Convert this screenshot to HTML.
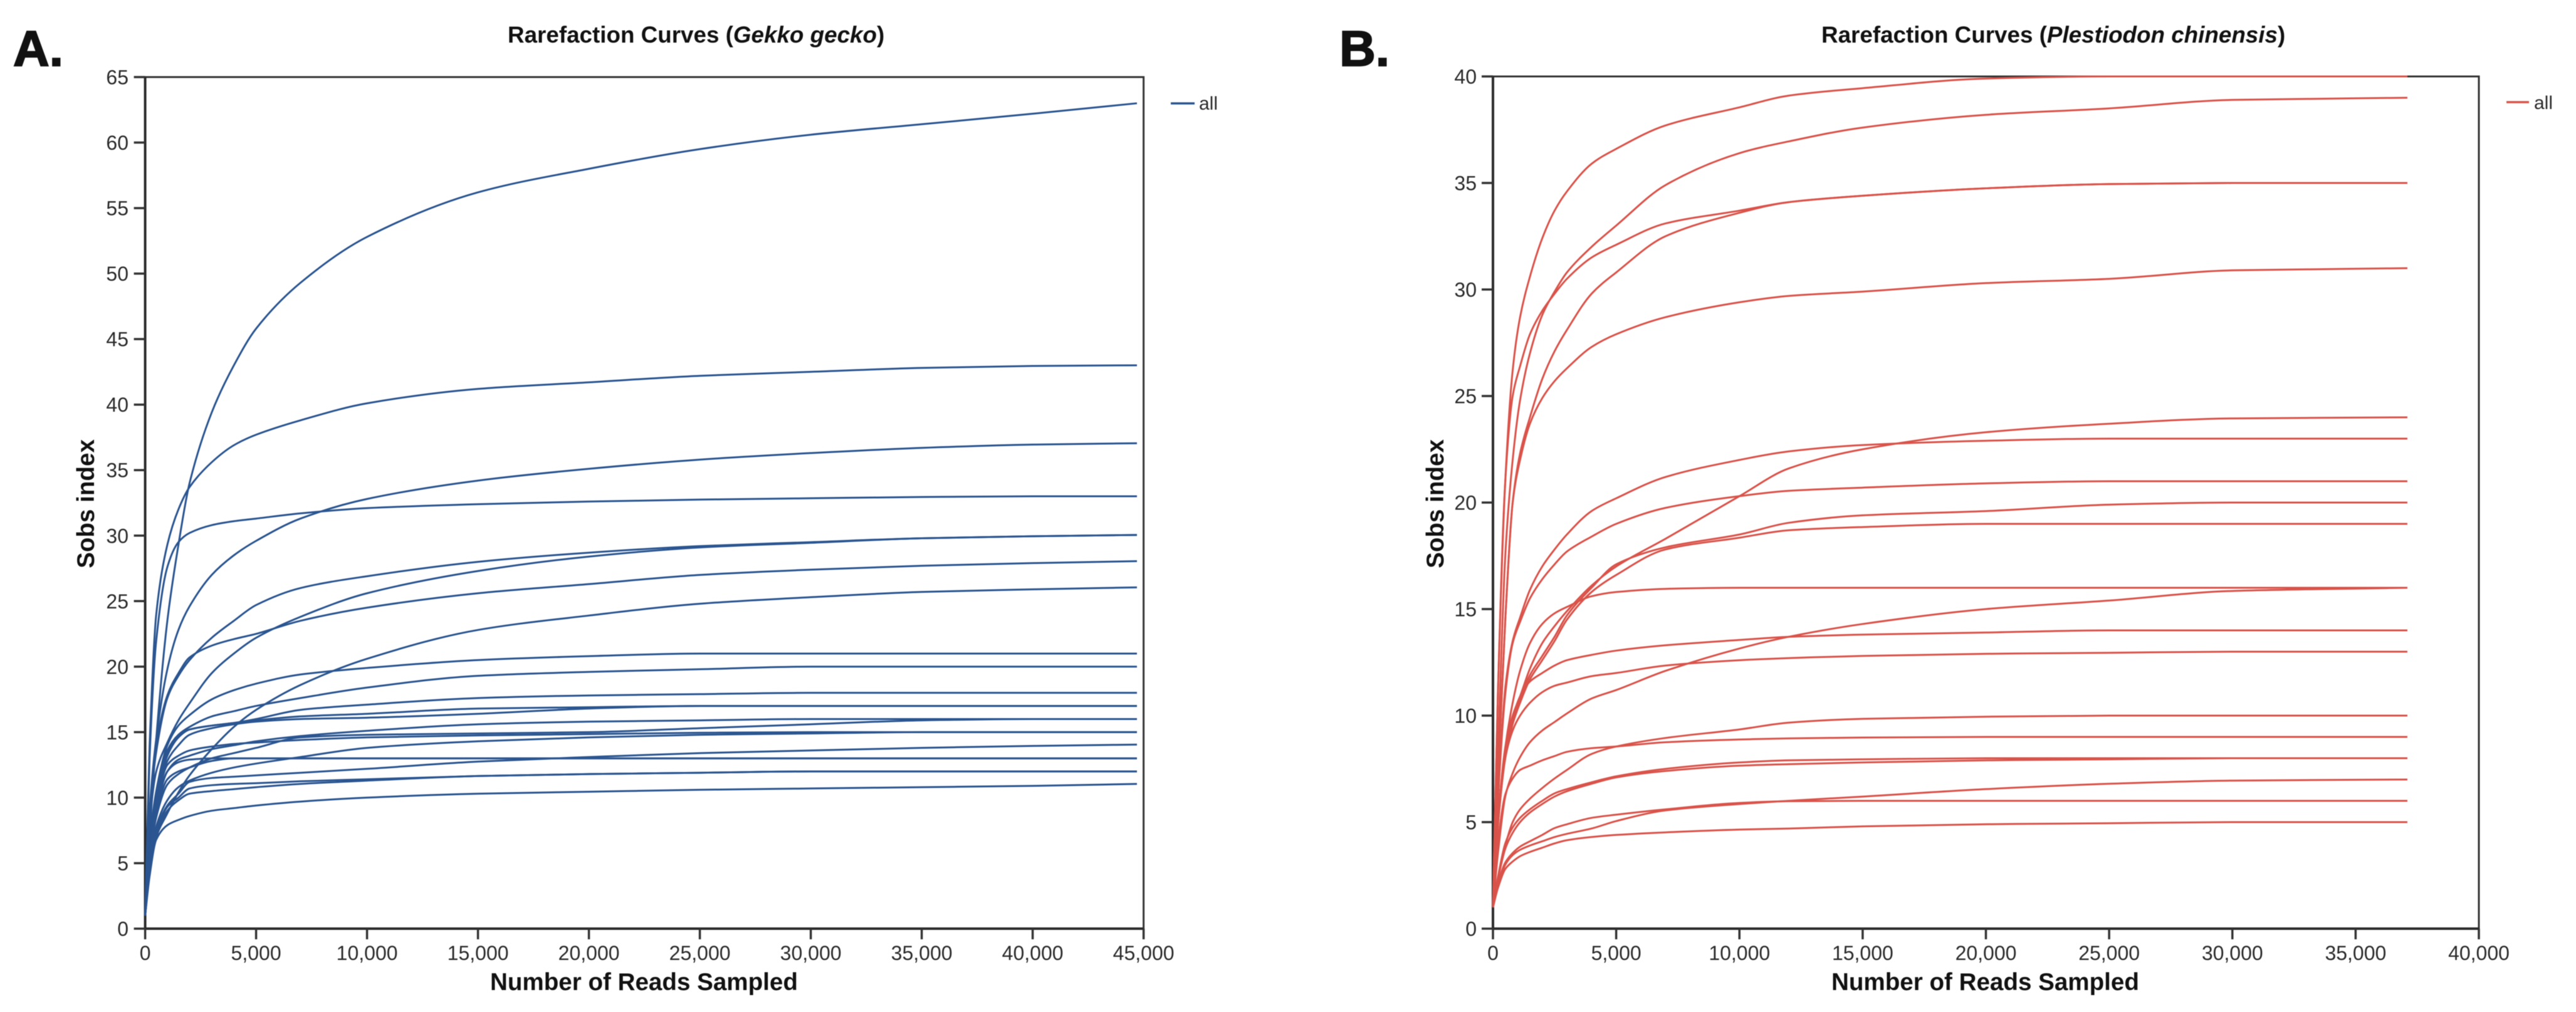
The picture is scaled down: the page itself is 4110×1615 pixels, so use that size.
<!DOCTYPE html>
<html lang="en">
<head>
<meta charset="utf-8">
<title>Rarefaction Curves</title>
<style>
html,body{margin:0;padding:0;background:#fff;width:4110px;height:1615px;overflow:hidden}
svg{display:block;font-family:"Liberation Sans",Arial,sans-serif;filter:blur(0.6px)}
.tick-label{font-size:32px;fill:#2b2b2b}
.axis-title{font-size:38.6px;font-weight:700;fill:#111}
.chart-title{font-size:36.8px;font-weight:700;fill:#111}
.panel-label{font-size:80px;font-weight:700;fill:#111;stroke:#111;stroke-width:2px}
.legend-label{font-size:30px;fill:#2b2b2b}
.frame{stroke:#333;stroke-width:3;fill:none}
.spine{stroke:#2b2b2b;stroke-width:4}
</style>
</head>
<body>
<svg id="chart" xmlns="http://www.w3.org/2000/svg" width="4110" height="1615" viewBox="0 0 4110 1615">
  <rect x="0" y="0" width="4110" height="1615" fill="#fff"/>

  <text class="panel-label" x="21" y="105">A.</text>
  <text class="panel-label" x="2137" y="105">B.</text>

  <g id="panel-a">
    <text class="chart-title" x="810" y="68">Rarefaction Curves (<tspan font-style="italic">Gekko gecko</tspan>)</text>
    <text class="axis-title" x="782" y="1580">Number of Reads Sampled</text>
    <text class="axis-title" transform="translate(150,804) rotate(-90)" text-anchor="middle">Sobs index</text>
    <rect class="frame" x="231.6" y="123" width="1593" height="1359"/>
    <line class="spine" x1="231.6" x2="231.6" y1="123" y2="1482"/>
    <line class="spine" x1="231.6" x2="1824.6" y1="1482" y2="1482"/>
    <g id="ticks-a"></g>
    <g id="lines-a"></g>
    <line x1="1868" x2="1906" y1="165" y2="165" stroke="#2a5590" stroke-width="3.5"/>
    <text class="legend-label" x="1913" y="175">all</text>
  </g>

  <g id="panel-b">
    <text class="chart-title" x="2906" y="68">Rarefaction Curves (<tspan font-style="italic">Plestiodon chinensis</tspan>)</text>
    <text class="axis-title" x="2922" y="1580">Number of Reads Sampled</text>
    <text class="axis-title" transform="translate(2303,804) rotate(-90)" text-anchor="middle">Sobs index</text>
    <rect class="frame" x="2382" y="122" width="1573" height="1360"/>
    <line class="spine" x1="2382" x2="2382" y1="122" y2="1482"/>
    <line class="spine" x1="2382" x2="3955" y1="1482" y2="1482"/>
    <g id="ticks-b"></g>
    <g id="lines-b"></g>
    <line x1="3999" x2="4035" y1="163" y2="163" stroke="#d9534a" stroke-width="3.5"/>
    <text class="legend-label" x="4043" y="174">all</text>
  </g>
</svg>

<script>
// ---- Panel A: Gekko gecko ----
const readsA = [0,200,500,1000,1500,2000,3000,4000,5000,7000,10000,15000,20000,25000,30000,35000,40000,44700];
const xTicksA = [0,5000,10000,15000,20000,25000,30000,35000,40000,45000];
const yTicksA = [0,5,10,15,20,25,30,35,40,45,50,55,60,65];
const a63 = [1,7,14.5,23.5,29.3,34,39.4,43,45.8,49.3,52.8,56.2,58,59.5,60.6,61.4,62.2,63];
const a43 = [1,14,24,29.3,32,33.7,35.6,36.9,37.7,38.8,40.1,41.2,41.7,42.2,42.5,42.8,42.95,43];
const a37 = [1,9,14.5,19.8,22.8,24.6,27,28.5,29.6,31.3,32.8,34.2,35.1,35.8,36.3,36.7,36.95,37.05];
const a33 = [1,13,22,27.6,29.5,30.2,30.8,31.1,31.3,31.7,32.1,32.4,32.6,32.75,32.85,32.95,33,33];
const a30a = [1,8.5,13.5,17.6,19.3,20.5,22.2,23.5,24.7,26,26.9,28,28.7,29.2,29.5,29.8,29.95,30.05];
const a30b = [1,8,12,14.2,15.9,17.2,19.5,21,22.2,23.8,25.6,27.3,28.4,29.1,29.45,29.8,29.95,30.05];
const a28 = [1,8.5,14,17.8,19.5,20.7,21.6,22.1,22.5,23.5,24.5,25.6,26.3,27,27.4,27.7,27.9,28.05];
const a26 = [1,4.5,7,8.8,10.4,11.7,13.7,15.4,16.7,18.6,20.6,22.8,23.9,24.8,25.3,25.7,25.9,26.05];
const a21 = [1,6.5,10.5,14,15.5,16.3,17.5,18.2,18.7,19.4,19.9,20.5,20.8,21,21,21,21,21];
const a20 = [1,6.3,10.3,13.6,14.8,15.4,16.2,16.6,17,17.6,18.4,19.3,19.6,19.8,20,20,20,20];
const a18 = [1,6,10,13.5,14.7,15.2,15.5,15.7,16,16.7,17.1,17.6,17.8,17.9,18,18,18,18];
const a17a = [1,5.8,9.8,13.2,14.6,15.2,15.5,15.7,15.9,16.2,16.4,16.8,16.9,17,17,17,17,17];
const a17b = [1,5.6,9.5,12.8,14,14.8,15.3,15.6,15.8,16,16.1,16.4,16.8,17,17,17,17,17];
const a16a = [1,5.4,9,12,12.9,13.2,13.7,14,14.3,14.7,15.1,15.6,15.8,15.9,16,16,16,16];
const a16b = [1,5.2,8.5,11,11.8,12.3,13,13.4,13.8,14.6,14.8,14.9,15,15.3,15.6,15.9,16,16];
const a15a = [1,5.5,9.3,12.5,13.2,13.6,13.9,14.1,14.2,14.4,14.6,14.75,14.85,14.95,15,15,15,15];
const a15b = [1,4.8,7.8,9.8,10.8,11.3,11.9,12.3,12.6,13.1,13.8,14.3,14.6,14.8,14.9,15,15,15];
const a14 = [1,4.7,7.5,9.4,10.3,11.2,11.5,11.6,11.7,11.9,12.2,12.75,13.1,13.4,13.6,13.8,13.95,14.05];
const a13a = [1,5.3,9,12,12.7,12.9,13,13,13,13,13,13,13,13,13,13,13,13];
const a13b = [1,5,8.7,11.4,12,12.3,12.8,13,13,13,13,13,13,13,13,13,13,13];
const a12a = [1,4.5,7.2,9.3,10,10.7,10.95,11.05,11.1,11.25,11.4,11.65,11.8,11.9,12,12,12,12];
const a12b = [1,4.4,7,9,9.8,10.3,10.5,10.65,10.8,11.05,11.3,11.65,11.8,11.9,12,12,12,12];
const a11 = [1,4,6.8,7.9,8.3,8.6,9,9.2,9.4,9.7,10,10.3,10.45,10.6,10.7,10.8,10.9,11.05];
const seriesA = [a63,a43,a37,a33,a30a,a30b,a28,a26,a21,a20,a18,a17a,a17b,a16a,a16b,a15a,a15b,a14,a13a,a13b,a12a,a12b,a11];

// ---- Panel B: Plestiodon chinensis ----
const readsB = [0,200,500,800,1100,1500,2000,2500,3000,4000,5000,7000,10000,12000,15000,20000,25000,30000,37100];
const xTicksB = [0,5000,10000,15000,20000,25000,30000,35000,40000];
const yTicksB = [0,5,10,15,20,25,30,35,40];
const b40 = [1,11,21,26.2,28.7,30.6,32.4,33.7,34.6,35.9,36.6,37.7,38.55,39.1,39.45,39.9,40,40,40];
const b39 = [1,8,17.5,22,24.8,27,28.8,29.9,30.8,32,33,34.9,36.4,36.95,37.6,38.2,38.5,38.9,39];
const b35a = [1,11,21,25,26.4,27.9,29,29.8,30.5,31.5,32.1,33.1,33.7,34.1,34.4,34.75,34.95,35,35];
const b35b = [1,7,14.5,20,22.3,24,25.8,27.1,28.1,29.8,30.8,32.5,33.6,34.1,34.4,34.75,34.95,35,35];
const b31 = [1,7,14.5,20,22,23.7,24.9,25.7,26.3,27.3,27.9,28.7,29.4,29.7,29.9,30.3,30.5,30.9,31];
const b24 = [1,5,8.5,10,10.9,12.2,13.4,14.2,14.9,16.1,17,18.3,20.3,21.6,22.5,23.3,23.7,23.95,24];
const b23 = [1,6,11.3,13.5,14.6,15.9,17,17.8,18.5,19.6,20.2,21.2,22,22.4,22.7,22.9,23,23,23];
const b21 = [1,6,11,13.4,14.4,15.5,16.4,17.1,17.7,18.4,19,19.75,20.3,20.55,20.7,20.9,21,21,21];
const b20 = [1,5,8.2,9.8,10.8,11.9,12.8,13.7,14.7,16,17.1,17.9,18.5,19.05,19.4,19.6,19.9,20,20];
const b19 = [1,4.8,8,9.6,10.6,11.7,12.6,13.5,14.5,15.8,16.6,17.8,18.35,18.7,18.85,19,19,19,19];
const b16a = [1,5,8.5,10.6,12.1,13.4,14.3,14.8,15.1,15.6,15.8,15.95,16,16,16,16,16,16,16];
const b16b = [1,3.5,6.2,7.3,8.05,8.75,9.3,9.7,10.1,10.8,11.2,12.1,13.15,13.7,14.3,15,15.4,15.85,16];
const b14 = [1,5,8.3,9.9,10.9,11.6,12,12.35,12.6,12.85,13.05,13.3,13.55,13.7,13.8,13.9,14,14,14];
const b13 = [1,4.8,8,9.3,10,10.6,11.1,11.4,11.55,11.85,12,12.35,12.6,12.7,12.8,12.9,12.95,13,13];
const b10 = [1,2.4,3.9,5,5.6,6.1,6.6,7.05,7.45,8.2,8.55,8.95,9.35,9.67,9.85,9.95,10,10,10];
const b9 = [1,4,6.3,7.05,7.45,7.65,7.9,8.1,8.3,8.47,8.55,8.75,8.88,8.93,8.97,9,9,9,9];
const b8a = [1,2.4,4,4.75,5.2,5.6,6,6.35,6.55,6.87,7.15,7.5,7.8,7.9,7.95,8,8,8,8];
const b8b = [1,2.3,3.75,4.5,5,5.45,5.85,6.2,6.45,6.8,7.1,7.4,7.65,7.72,7.8,7.9,7.95,8,8];
const b7 = [1,2,3,3.45,3.7,3.9,4.1,4.3,4.45,4.7,5.05,5.55,5.85,6,6.2,6.55,6.8,6.95,7];
const b6 = [1,2.1,3.1,3.55,3.85,4.1,4.4,4.72,4.9,5.2,5.35,5.6,5.9,5.98,6,6,6,6,6];
const b5 = [1,1.9,2.8,3.15,3.4,3.6,3.8,4,4.15,4.3,4.4,4.52,4.65,4.7,4.8,4.9,4.95,5,5];
const seriesB = [b40,b39,b35a,b35b,b31,b24,b23,b21,b20,b19,b16a,b16b,b14,b13,b10,b9,b8a,b8b,b7,b6,b5];

const SVG_NS = 'http://www.w3.org/2000/svg';

function axis(d0, d1, r0, r1) {
  return function (v) { return r0 + (v - d0) / (d1 - d0) * (r1 - r0); };
}

// Monotone cubic path through the data points, in pixel space.
function monotonePath(xs, ys) {
  const n = xs.length, sec = [], m = [];
  for (let i = 0; i < n - 1; i++) sec.push((ys[i + 1] - ys[i]) / (xs[i + 1] - xs[i]));
  m[0] = sec[0];
  m[n - 1] = sec[n - 2];
  for (let i = 1; i < n - 1; i++) {
    m[i] = sec[i - 1] * sec[i] <= 0 ? 0 :
      (2 * sec[i - 1] * sec[i]) / (sec[i - 1] + sec[i]);
  }
  let d = 'M' + xs[0].toFixed(2) + ' ' + ys[0].toFixed(2);
  for (let i = 0; i < n - 1; i++) {
    const h = (xs[i + 1] - xs[i]) / 3;
    d += 'C' + (xs[i] + h).toFixed(2) + ' ' + (ys[i] + m[i] * h).toFixed(2) + ' ' +
      (xs[i + 1] - h).toFixed(2) + ' ' + (ys[i + 1] - m[i + 1] * h).toFixed(2) + ' ' +
      xs[i + 1].toFixed(2) + ' ' + ys[i + 1].toFixed(2);
  }
  return d;
}

function drawTicks(group, panel, xTicks, yTicks, xScale, yScale, xLeft, yBottom, yLabelRight) {
  xTicks.forEach(function (v) {
    const px = xScale(v);
    const tick = document.createElementNS(SVG_NS, 'line');
    
    
    tick.setAttribute('x1', px);
    tick.setAttribute('x2', px);
    tick.setAttribute('y1', yBottom);
    tick.setAttribute('y2', yBottom + 17);
    tick.setAttribute('stroke', '#333');
    tick.setAttribute('stroke-width', '3.5');
    group.appendChild(tick);
    const label = document.createElementNS(SVG_NS, 'text');
    
    
    label.setAttribute('class', 'tick-label');
    label.setAttribute('x', px);
    label.setAttribute('y', yBottom + 50);
    label.setAttribute('text-anchor', 'middle');
    label.textContent = v.toLocaleString('en-US');
    group.appendChild(label);
  });
  yTicks.forEach(function (v) {
    const py = yScale(v);
    const tick = document.createElementNS(SVG_NS, 'line');
    
    
    tick.setAttribute('x1', xLeft - 18);
    tick.setAttribute('x2', xLeft);
    tick.setAttribute('y1', py);
    tick.setAttribute('y2', py);
    tick.setAttribute('stroke', '#333');
    tick.setAttribute('stroke-width', '3.5');
    group.appendChild(tick);
    const label = document.createElementNS(SVG_NS, 'text');
    
    
    label.setAttribute('class', 'tick-label');
    label.setAttribute('x', yLabelRight);
    label.setAttribute('y', py + 11.5);
    label.setAttribute('text-anchor', 'end');
    label.textContent = String(v);
    group.appendChild(label);
  });
}

function drawSeries(group, panel, reads, series, xScale, yScale, color) {
  const xs = reads.map(xScale);
  series.forEach(function (values, i) {
    const path = document.createElementNS(SVG_NS, 'path');
    
    
    path.setAttribute('d', monotonePath(xs, values.map(yScale)));
    path.setAttribute('fill', 'none');
    path.setAttribute('stroke', color);
    path.setAttribute('stroke-width', '3');
    path.setAttribute('stroke-linejoin', 'round');
    group.appendChild(path);
  });
}

const xA = axis(0, 45000, 231.6, 1824.6);
const yA = axis(0, 65, 1482, 123);
const xB = axis(0, 40000, 2382, 3955);
const yB = axis(0, 40, 1482, 122);

drawTicks(document.getElementById('ticks-a'), 'a', xTicksA, yTicksA, xA, yA, 231.6, 1482, 205);
drawTicks(document.getElementById('ticks-b'), 'b', xTicksB, yTicksB, xB, yB, 2382, 1482, 2356);
drawSeries(document.getElementById('lines-a'), 'a', readsA, seriesA, xA, yA, '#2a5590');
drawSeries(document.getElementById('lines-b'), 'b', readsB, seriesB, xB, yB, '#d9534a');
</script>
</body>
</html>
